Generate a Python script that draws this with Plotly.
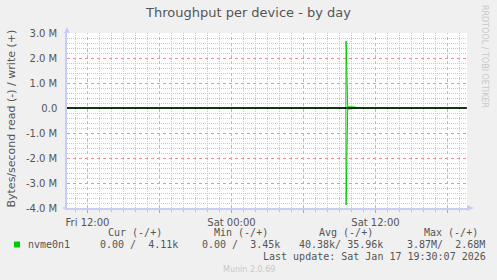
import datetime as dt
import plotly.graph_objects as go

# ---------------- data ----------------
times = ["2026-01-16 10:15", "2026-01-17 09:32", "2026-01-17 09:33", "2026-01-17 09:41",
         "2026-01-17 10:20", "2026-01-17 10:22", "2026-01-17 18:00", "2026-01-17 18:05",
         "2026-01-17 18:10", "2026-01-17 19:30"]
write_bps = [0, 0, 2.68e6, 0.05e6, 0.04e6, 0, 0, 0.04e6, 0, 4.11e3]
read_bps = [0, 0, -3.87e6, -0.05e6, 0, 0, 0, 0, 0, 0]

x_range = ["2026-01-16 10:17:30", "2026-01-17 19:37:30"]
x_tickvals = ["2026-01-16 12:00", "2026-01-16 18:00", "2026-01-17 00:00",
              "2026-01-17 06:00", "2026-01-17 12:00", "2026-01-17 18:00"]
x_ticktext = ["Fri 12:00", "", "Sat 00:00", "", "Sat 12:00", ""]

y_tickvals = [3e6, 2e6, 1e6, 0, -1e6, -2e6, -3e6, -4e6]
y_ticktext = ["3.0 M", "2.0 M", "1.0 M", "0.0", "-1.0 M", "-2.0 M", "-3.0 M", "-4.0 M"]

title = "Throughput per device - by day"
y_title = "Bytes/second read (-) / write (+)"
series_name = "nvme0n1"
legend_headers = ["Cur (-/+)", "Min (-/+)", "Avg (-/+)", "Max (-/+)"]
legend_values = ["0.00 /  4.11k", "0.00 /  3.45k", "40.38k/ 35.96k", "3.87M/  2.68M"]
last_update = "Last update: Sat Jan 17 19:30:07 2026"
footer = "Munin 2.0.69"
side_text = "RRDTOOL / TOBI OETIKER"

# ---------------- style ----------------
GREEN = "#00CC00"
TEXT = "#555555"
AXIS = "#C8CDF5"
MGRID = "#F09090"
GRID = "#C8C8C8"
L, R, T, B = 67, 467, 33, 208

# minor grid positions (hourly / every 0.2 M), skipping the major positions
base = dt.datetime(2026, 1, 16, 11, 0)
x_minor = [(base + dt.timedelta(hours=h)).strftime("%Y-%m-%d %H:%M")
           for h in range(0, 33) if (11 + h) % 6 != 0]
y_minor = [k * 0.2e6 for k in range(-20, 16) if k % 5 != 0]


def px(x):
    return (x - L) / (R - L)


def py(y):
    return (B - y) / (B - T)


def nb(s):
    return s.replace(" ", "\u00a0")


fig = go.Figure()
fig.add_trace(go.Scatter(x=times, y=write_bps, mode="lines",
                         line=dict(color=GREEN, width=1), hoverinfo="skip"))
fig.add_trace(go.Scatter(x=times, y=read_bps, mode="lines",
                         line=dict(color=GREEN, width=1), hoverinfo="skip"))

mono = dict(family="DejaVu Sans Mono", size=10, color=TEXT)
ann = []
ann.append(dict(x=px(247.5), y=py(13), text=title,
                font=dict(family="DejaVu Sans", size=13, color=TEXT)))
ann.append(dict(x=px(10.5), y=py(119), text=y_title, textangle=-90,
                font=dict(family="DejaVu Sans", size=11, color=TEXT)))
ann.append(dict(x=px(485), y=py(56), text=side_text, textangle=90,
                font=dict(family="DejaVu Sans", size=8, color="#C8C8C8")))
ann.append(dict(x=px(248.5), y=py(269), text=footer,
                font=dict(family="DejaVu Sans", size=8, color="#C8C8C8")))

header_x = [107, 213.3, 318.3, 422.7]
value_x = [99, 201, 298.3, 406]
for hx, h in zip(header_x, legend_headers):
    ann.append(dict(x=px(hx), y=py(232.7), text=nb(h), xanchor="left", font=mono))
for vx, v in zip(value_x, legend_values):
    ann.append(dict(x=px(vx), y=py(244.7), text=nb(v), xanchor="left", font=mono))
ann.append(dict(x=px(26.7), y=py(244.7), text=series_name, xanchor="left", font=mono))
ann.append(dict(x=px(261.7), y=py(256.7), text=nb(last_update), xanchor="left", font=mono))

for a in ann:
    a.setdefault("xanchor", "center")
    a.update(xref="paper", yref="paper", showarrow=False, yanchor="middle", borderpad=0)

shapes = []
# major vertical grid lines at the major tick positions
for tv in x_tickvals:
    shapes.append(dict(type="line", xref="x", yref="paper", x0=tv, x1=tv, y0=0, y1=1,
                       line=dict(color="#F4A0A0", width=1, dash="dot"), layer="above"))
shapes += [
    # zero line
    dict(type="line", xref="paper", yref="y", x0=0, x1=1, y0=0, y1=0,
         line=dict(color="black", width=1.5), layer="above"),
    # legend colour box
    dict(type="rect", xref="paper", yref="paper", x0=px(14), x1=px(20), y0=py(247.5), y1=py(241.5),
         fillcolor=GREEN, line=dict(width=0)),
    # x axis line extension to the left
    dict(type="line", xref="paper", yref="paper", x0=px(63), x1=0, y0=0, y1=0,
         line=dict(color=AXIS, width=1.5), layer="above"),
    # x axis arrow
    dict(type="path", xref="paper", yref="paper", xsizemode="pixel", ysizemode="pixel",
         xanchor=1.0, yanchor=0, path="M 0,3 L 7,0 L 0,-3 Z", fillcolor=AXIS,
         line=dict(width=0), layer="above"),
    # y axis arrow
    dict(type="path", xref="paper", yref="paper", xsizemode="pixel", ysizemode="pixel",
         xanchor=0, yanchor=1.0, path="M -3,0 L 0,6 L 3,0 Z", fillcolor=AXIS,
         line=dict(width=0), layer="above"),
]

fig.update_layout(
    width=497, height=280,
    margin=dict(l=L, r=497 - R, t=T, b=280 - B),
    paper_bgcolor="#F0F0F0", plot_bgcolor="#FFFFFF",
    showlegend=False,
    font=dict(family="DejaVu Sans", size=10, color=TEXT),
    annotations=ann, shapes=shapes,
)
fig.update_xaxes(
    type="date", range=x_range, tickmode="array", tickvals=x_tickvals, ticktext=x_ticktext,
    showgrid=False,
    minor=dict(tickmode="array", tickvals=x_minor, showgrid=True,
               gridcolor=GRID, griddash="1px,1px", ticks="outside", ticklen=2,
               tickcolor="rgba(160,160,200,0.6)"),
    ticks="outside", ticklen=3, tickcolor=MGRID,
    showline=True, linecolor=AXIS, linewidth=1.5,
    zeroline=False, tickfont=dict(size=10, color=TEXT), ticklabelstandoff=1,
    fixedrange=True,
)
fig.update_yaxes(
    range=[-4e6, 3e6], tickmode="array", tickvals=y_tickvals, ticktext=y_ticktext,
    showgrid=True, gridcolor=MGRID, griddash="dot", gridwidth=1,
    minor=dict(tickmode="array", tickvals=y_minor, showgrid=True, gridcolor=GRID,
               griddash="1px,1px"),
    ticks="", showline=True, linecolor=AXIS, linewidth=1.5,
    zeroline=False, tickfont=dict(size=10, color=TEXT), ticklabelstandoff=6,
    fixedrange=True,
)

fig.write_html("out.html", config={"displayModeBar": False})
